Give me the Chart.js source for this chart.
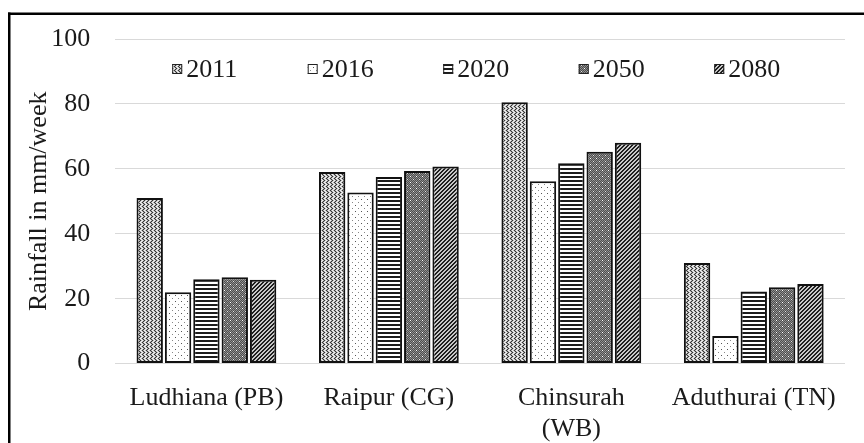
<!DOCTYPE html>
<html>
<head>
<meta charset="utf-8">
<script src="https://cdn.jsdelivr.net/npm/chart.js@4.4.1/dist/chart.umd.min.js"></script>
<style>
  html, body { margin: 0; padding: 0; background: #fff; }
  #wrap { position: relative; width: 864px; height: 443px; }
</style>
</head>
<body>
<div id="wrap"><canvas id="rain"></canvas></div>
<script>
const categories = ["Ludhiana (PB)", "Raipur (CG)", ["Chinsurah", "(WB)"], "Aduthurai (TN)"];
const years = ["2011", "2016", "2020", "2050", "2080"];
const rain2011 = [51, 59, 80.5, 31];
const rain2016 = [22, 52.7, 56.2, 8.5];
const rain2020 = [26, 57.5, 61.7, 22.2];
const rain2050 = [26.6, 59.3, 65.3, 23.5];
const rain2080 = [25.8, 60.7, 68, 24.5];
const yTicks = [0, 20, 40, 60, 80, 100];

const FONT = "'Liberation Serif', 'Times New Roman', serif";

// little pixel tiles to mimic the excel pattern fills
function tile(w, h, painter) {
  const c = document.createElement("canvas");
  c.width = w; c.height = h;
  const g = c.getContext("2d");
  painter(g, w, h);
  return document.createElement("canvas").getContext("2d").createPattern(c, "repeat");
}

function px(g, x, y, col) { g.fillStyle = col; g.fillRect(x, y, 1, 1); }

const patterns = {
  "2011": tile(8, 8, (g, w, h) => {
    g.fillStyle = "#b8b8b8"; g.fillRect(0, 0, w, h);
    for (let y = 0; y < h; y++) {
      for (let x = 0; x < w; x++) {
        const zig = (x + (y % 4 < 2 ? y % 4 : 4 - y % 4)) % 4;
        if (zig === 0) px(g, x, y, "#333");
        else if (zig === 2) px(g, x, y, "#f4f4f4");
      }
    }
  }),
  "2016": tile(6, 6, (g, w, h) => {
    g.fillStyle = "#ffffff"; g.fillRect(0, 0, w, h);
    px(g, 1, 1, "#555"); px(g, 4, 4, "#888");
  }),
  "2020": tile(4, 4, (g, w, h) => {
    g.fillStyle = "#ffffff"; g.fillRect(0, 0, w, h);
    g.fillStyle = "#1c1c1c"; g.fillRect(0, 0, w, 2);
  }),
  "2050": tile(6, 6, (g, w, h) => {
    for (let y = 0; y < h; y++) {
      for (let x = 0; x < w; x++) px(g, x, y, (x + y) % 2 ? "#4e4e4e" : "#8e8e8e");
    }
    px(g, 2, 2, "#ffffff"); px(g, 5, 5, "#e0e0e0");
  }),
  "2080": tile(4, 4, (g, w, h) => {
    for (let y = 0; y < h; y++) {
      for (let x = 0; x < w; x++) px(g, x, y, (x + y) % 4 < 2 ? "#1e1e1e" : "#c8c8c8");
    }
  })
};

const seriesValues = [rain2011, rain2016, rain2020, rain2050, rain2080];

const datasets = years.map((yr, i) => ({
  label: yr,
  data: seriesValues[i],
  backgroundColor: patterns[yr],
  borderColor: "#111",
  borderWidth: 2,
  borderSkipped: false,
  categoryPercentage: 0.777,
  barPercentage: 0.93
}));

// legend sits inside the plot, under the 100 line
const innerLegend = {
  id: "innerLegend",
  afterDatasetsDraw(chart) {
    const ctx = chart.ctx;
    const area = chart.chartArea;
    const step = 135.5;
    const y = area.top + 30;
    ctx.save();
    ctx.font = "26px " + FONT;
    ctx.textBaseline = "middle";
    chart.data.datasets.forEach((ds, i) => {
      const x0 = area.left + 57 + i * step;
      ctx.fillStyle = ds.backgroundColor;
      ctx.fillRect(x0, y - 5, 10, 10);
      ctx.strokeStyle = "#222";
      ctx.lineWidth = 1;
      ctx.strokeRect(x0 + 0.5, y - 4.5, 9, 9);
      ctx.fillStyle = "#1a1a1a";
      ctx.fillText(ds.label, x0 + 14, y + 1);
    });
    ctx.restore();
  }
};

// frame lines on top and left, as in the source figure
const frame = {
  id: "frame",
  beforeDraw(chart) {
    const ctx = chart.ctx;
    ctx.save();
    ctx.fillStyle = "#fff";
    ctx.fillRect(0, 0, chart.width, chart.height);
    ctx.restore();
  },
  afterDraw(chart) {
    const ctx = chart.ctx;
    ctx.save();
    ctx.fillStyle = "#000";
    ctx.fillRect(8, 12.5, chart.width - 8, 2.5);
    ctx.fillRect(8, 12.5, 2.5, chart.height);
    ctx.restore();
  }
};

new Chart(document.getElementById("rain"), {
  type: "bar",
  data: { labels: categories, datasets },
  plugins: [frame, innerLegend],
  options: {
    responsive: true,
    maintainAspectRatio: false,
    animation: false,
    layout: { padding: { left: 16, right: 19, top: 39, bottom: -2 } },
    plugins: { legend: { display: false }, tooltip: { enabled: false } },
    scales: {
      x: {
        grid: { color: "transparent", drawTicks: true, tickLength: 19, tickColor: "transparent" },
        border: { display: false },
        ticks: {
          color: "#1a1a1a",
          padding: 0,
          maxRotation: 0,
          autoSkip: false,
          font: { family: FONT, size: 26, lineHeight: 1.2 }
        }
      },
      y: {
        min: 0,
        max: 100,
        afterBuildTicks(scale) { scale.ticks = yTicks.map(v => ({ value: v })); },
        grid: { color: "#d9d9d9", lineWidth: 1, drawTicks: true, tickLength: 25, tickColor: "transparent" },
        border: { display: false },
        ticks: {
          color: "#1a1a1a",
          padding: 0,
          font: { family: FONT, size: 26 }
        },
        title: {
          display: true,
          text: "Rainfall in mm/week",
          color: "#1a1a1a",
          padding: { top: 8, bottom: -4 },
          font: { family: FONT, size: 26, lineHeight: 1.2 }
        }
      }
    }
  }
});
</script>
</body>
</html>
